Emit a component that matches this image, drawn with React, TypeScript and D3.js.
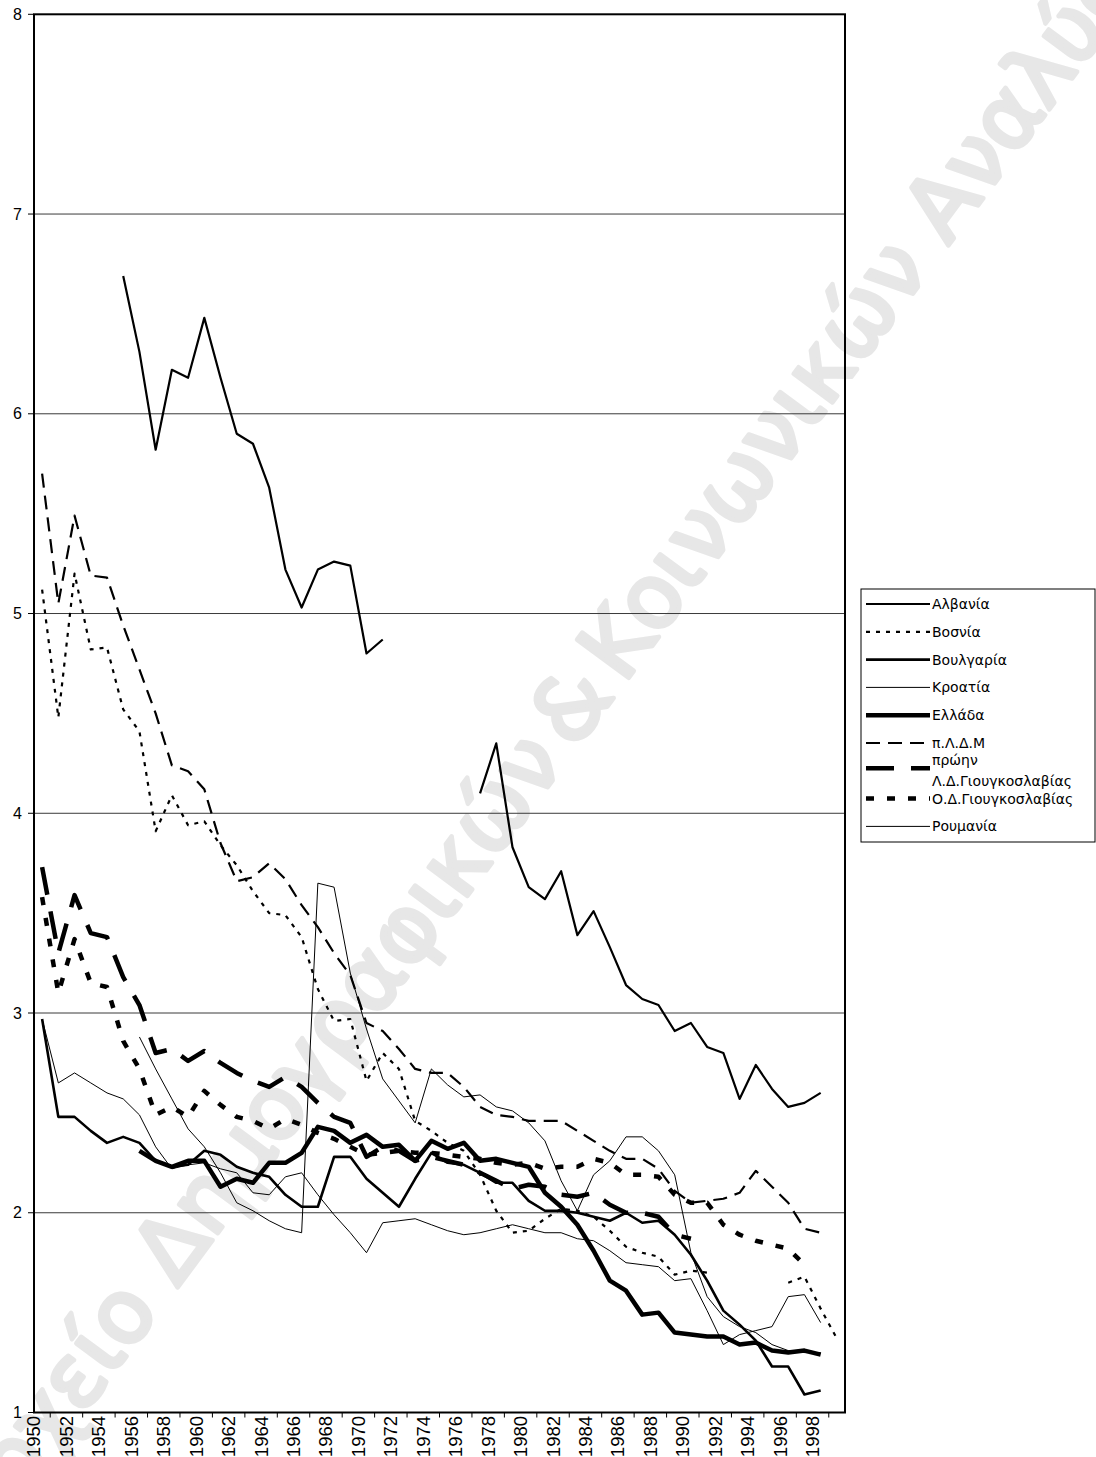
import React from 'react';
import * as d3 from 'd3';

// ---------- data ----------
const years: number[] = d3.range(1950, 2000);
const yTickValues: number[] = [1, 2, 3, 4, 5, 6, 7, 8];
const gridValues: number[] = [2, 3, 4, 5, 6, 7];
const labelYears: number[] = years.filter((y) => y % 2 === 0);

const N = null;
// 1950 ... 1999
const albania = [N, N, N, N, N,
  6.69, 6.31, 5.82, 6.22, 6.18, 6.48, 6.18, 5.90, 5.85, 5.63, 5.22, 5.03, 5.22, 5.26, 5.24, 4.80, 4.87,
  N, N, N, N, N,
  4.10, 4.35, 3.83, 3.63, 3.57, 3.71, 3.39, 3.51, 3.33, 3.14, 3.07, 3.04, 2.91, 2.95, 2.83, 2.80, 2.57, 2.74, 2.62, 2.53, 2.55, 2.60,
  N];
const bosnia = [5.12, 4.48, 5.20, 4.82, 4.83, 4.52, 4.41, 3.91, 4.09, 3.94,
  3.96, 3.84, 3.74, 3.61, 3.50, 3.49, 3.38, 3.12, 2.96, 2.97,
  2.66, 2.80, 2.72, 2.46, 2.41, 2.35, 2.31, 2.19, 2.01, 1.90,
  1.91, 1.97, 2.02, 2.01, 1.98, 1.91, 1.83, 1.80, 1.78, 1.69,
  1.71, 1.70, N, N, N, N, 1.65, 1.68, 1.52, 1.37];
const bulgaria = [2.97, 2.48, 2.48, 2.41, 2.35, 2.38, 2.35, 2.26, 2.23, 2.24,
  2.31, 2.29, 2.23, 2.20, 2.18, 2.09, 2.03, 2.03, 2.28, 2.28,
  2.17, 2.10, 2.03, 2.17, 2.30, 2.25, 2.24, 2.20, 2.15, 2.15,
  2.06, 2.01, 2.01, 2.00, 1.98, 1.96, 2.00, 1.95, 1.96, 1.89,
  1.79, 1.66, 1.51, 1.44, 1.36, 1.23, 1.23, 1.09, 1.11, N];
const croatia = [2.97, 2.65, 2.70, 2.65, 2.60, 2.57, 2.49, 2.33, 2.22, 2.24,
  2.25, 2.22, 2.20, 2.10, 2.09, 2.18, 2.20, 2.09, 1.99, 1.90,
  1.80, 1.95, 1.96, 1.97, 1.94, 1.91, 1.89, 1.90, 1.92, 1.94,
  1.92, 1.90, 1.90, 1.87, 1.86, 1.81, 1.75, 1.74, 1.73, 1.66,
  1.67, 1.51, 1.34, 1.39, 1.41, 1.43, 1.58, 1.59, 1.45, N];
const greece = [N, N, N, N, N, N, 2.31, 2.26, 2.23, 2.26,
  2.26, 2.13, 2.17, 2.15, 2.25, 2.25, 2.30, 2.43, 2.41, 2.35,
  2.39, 2.33, 2.34, 2.26, 2.36, 2.32, 2.35, 2.26, 2.27, 2.25,
  2.23, 2.10, 2.03, 1.94, 1.81, 1.66, 1.61, 1.49, 1.50, 1.40,
  1.39, 1.38, 1.38, 1.34, 1.35, 1.31, 1.30, 1.31, 1.29, N];
const pldm = [5.70, 5.05, 5.49, 5.19, 5.18, 4.94, 4.72, 4.50, 4.24, 4.21,
  4.12, 3.85, 3.66, 3.68, 3.75, 3.67, 3.54, 3.43, 3.30, 3.19,
  2.95, 2.91, 2.82, 2.72, 2.70, 2.70, 2.63, 2.53, 2.49, 2.48,
  2.46, 2.46, 2.46, 2.41, 2.36, 2.31, 2.27, 2.27, 2.22, 2.11,
  2.05, 2.06, 2.07, 2.10, 2.21, 2.13, 2.05, 1.92, 1.90, N];
const exYugoslavia = [3.73, 3.30, 3.59, 3.40, 3.38, 3.18, 3.04, 2.80, 2.82, 2.76,
  2.81, 2.75, 2.70, 2.66, 2.63, 2.68, 2.63, 2.55, 2.48, 2.45,
  2.28, 2.33, 2.31, 2.26, 2.28, 2.26, 2.24, 2.20, 2.16, 2.12,
  2.14, 2.13, 2.09, 2.08, 2.10, 2.04, 2.00, 2.00, 1.98, 1.89,
  1.87, N, N, N, N, N, N, N, N, N];
const frYugoslavia = [3.58, 3.10, 3.37, 3.15, 3.13, 2.86, 2.72, 2.49, 2.53, 2.48,
  2.61, 2.54, 2.48, 2.46, 2.42, 2.47, 2.44, 2.40, 2.37, 2.33,
  2.29, 2.30, 2.31, 2.30, 2.30, 2.29, 2.28, 2.27, 2.25, 2.24,
  2.25, 2.22, 2.23, 2.23, 2.27, 2.25, 2.19, 2.19, 2.18, 2.09,
  2.05, 2.05, 1.94, 1.89, 1.86, 1.84, 1.82, 1.74, N, N];
const romania = [N, N, N, N, N, N, 2.88, 2.72, 2.57, 2.42,
  2.33, 2.20, 2.05, 2.01, 1.96, 1.92, 1.90, 3.65, 3.63, 3.20,
  2.92, 2.67, 2.56, 2.45, 2.72, 2.64, 2.58, 2.59, 2.53, 2.51,
  2.45, 2.36, 2.16, 2.01, 2.19, 2.26, 2.38, 2.38, 2.31, 2.19,
  1.80, 1.58, 1.48, 1.43, 1.40, 1.34, 1.31, 1.30, 1.30, N];

const seriesNames: string[] = ['Αλβανία', 'Βοσνία', 'Βουλγαρία', 'Κροατία', 'Ελλάδα', 'π.Λ.Δ.Μ',
  'πρώην Λ.Δ.Γιουγκοσλαβίας', 'Ο.Δ.Γιουγκοσλαβίας', 'Ρουμανία'];
const seriesValues = [albania, bosnia, bulgaria, croatia, greece, pldm, exYugoslavia, frYugoslavia, romania];

// styles
const seriesStyles = [
  { width: 2.2, dash: null },
  { width: 2.2, dash: '4,6' },
  { width: 2.6, dash: null },
  { width: 1, dash: null },
  { width: 4.5, dash: null },
  { width: 2.2, dash: '14,8' },
  { width: 4.5, dash: '28,17' },
  { width: 4.5, dash: '8,13' },
  { width: 1, dash: null },
];

export default function App() {
  const W = 1096;
  const H = 1457;
  const left = 34;
  const right = 845;
  const top = 14.3;
  const bottom = 1412.5;

  const x = d3.scaleBand<number>().domain(years).range([left, right]).paddingInner(0).paddingOuter(0);
  const bw = x.bandwidth();
  const cx = (yr: number) => (x(yr) as number) + bw / 2;
  const y = d3.scaleLinear().domain([1, 8]).range([bottom, top]);

  const line = d3
    .line<{ yr: number; v: number | null }>()
    .defined((d) => d.v != null)
    .x((d) => cx(d.yr))
    .y((d) => y(d.v as number));

  const tickBoundaries = d3.range(1, 51, 2).map((k) => left + k * bw);

  const legX = 861;
  const legY = 589;
  const legW = 234;
  const legH = 253;
  const itemY = (i: number) => 604 + i * 27.8;

  const wmFill = '#e7e7e7';
  const wmFont = '"DejaVu Sans", Verdana, sans-serif';

  return (
    <svg
      width={W}
      height={H}
      viewBox={`0 0 ${W} ${H}`}
      style={{ position: 'absolute', left: 0, top: 0, background: '#fff' }}
    >
      <rect x={0} y={0} width={W} height={H} fill="#fff" />

      {/* watermark */}
      <g transform="translate(570,705) rotate(-53.5)" fontFamily={wmFont} fontSize={88}
        fill={wmFill} stroke={wmFill} strokeWidth={4.5} strokeLinejoin="round">
        <text x={-48} y={31} textAnchor="end">Αρχείο Δημογραφικών</text>
        <text x={0} y={31} textAnchor="middle">&amp;</text>
        <text x={48} y={31} textAnchor="start">Κοινωνικών Αναλύσεων</text>
      </g>

      {/* gridlines */}
      {gridValues.map((v) => (
        <line key={v} x1={left} x2={right} y1={y(v)} y2={y(v)} stroke="#3a3a3a" strokeWidth={1} />
      ))}

      {/* series */}
      {seriesValues.map((vals, i) => {
        const data = years.map((yr, j) => ({ yr, v: vals[j] as number | null }));
        const st = seriesStyles[i];
        return (
          <path
            key={seriesNames[i]}
            d={line(data) || ''}
            fill="none"
            stroke="#000"
            strokeWidth={st.width}
            strokeDasharray={st.dash || undefined}
            strokeLinejoin="round"
          />
        );
      })}

      {/* frame */}
      <rect x={left} y={top} width={right - left} height={bottom - top} fill="none" stroke="#000" strokeWidth={2} />

      {/* y axis ticks + labels */}
      {yTickValues.map((v) => (
        <g key={v}>
          <line x1={28} x2={left} y1={y(v)} y2={y(v)} stroke="#000" strokeWidth={1} />
          <text x={22} y={y(v)} dy="0.35em" textAnchor="end" fontFamily='"Liberation Sans", Arial, sans-serif'
            fontSize={16} fill="#000">{v}</text>
        </g>
      ))}

      {/* x axis ticks */}
      {tickBoundaries.map((bx, i) => (
        <line key={i} x1={bx} x2={bx} y1={bottom} y2={bottom + 5} stroke="#000" strokeWidth={1} />
      ))}
      {labelYears.map((yr) => (
        <text key={yr} transform={`translate(${x(yr)},${bottom + 3.5}) rotate(-90)`} textAnchor="end" dy="0.35em"
          fontFamily='"Liberation Sans", Arial, sans-serif' fontSize={18.5} fill="#000">{yr}</text>
      ))}

      {/* legend */}
      <rect x={legX} y={legY} width={legW} height={legH} fill="#fff" stroke="#000" strokeWidth={1} />
      {seriesNames.map((name, i) => {
        const st = seriesStyles[i];
        const ly = i === 6 ? itemY(i) - 2.5 : itemY(i);
        return (
          <g key={name}>
            <line x1={866} x2={930} y1={ly} y2={ly} stroke="#000" strokeWidth={st.width}
              strokeDasharray={st.dash || undefined} />
            {i === 6 ? (
              <g>
                <text x={932} y={760} dy="0.35em" fontFamily='"DejaVu Sans", Verdana, sans-serif' fontSize={14} fill="#000">πρώην</text>
                <text x={932} y={781} dy="0.35em" fontFamily='"DejaVu Sans", Verdana, sans-serif' fontSize={14} fill="#000">Λ.Δ.Γιουγκοσλαβίας</text>
              </g>
            ) : (
              <text x={932} y={itemY(i)} dy="0.35em" fontFamily='"DejaVu Sans", Verdana, sans-serif' fontSize={14} fill="#000">{name}</text>
            )}
          </g>
        );
      })}
    </svg>
  );
}
